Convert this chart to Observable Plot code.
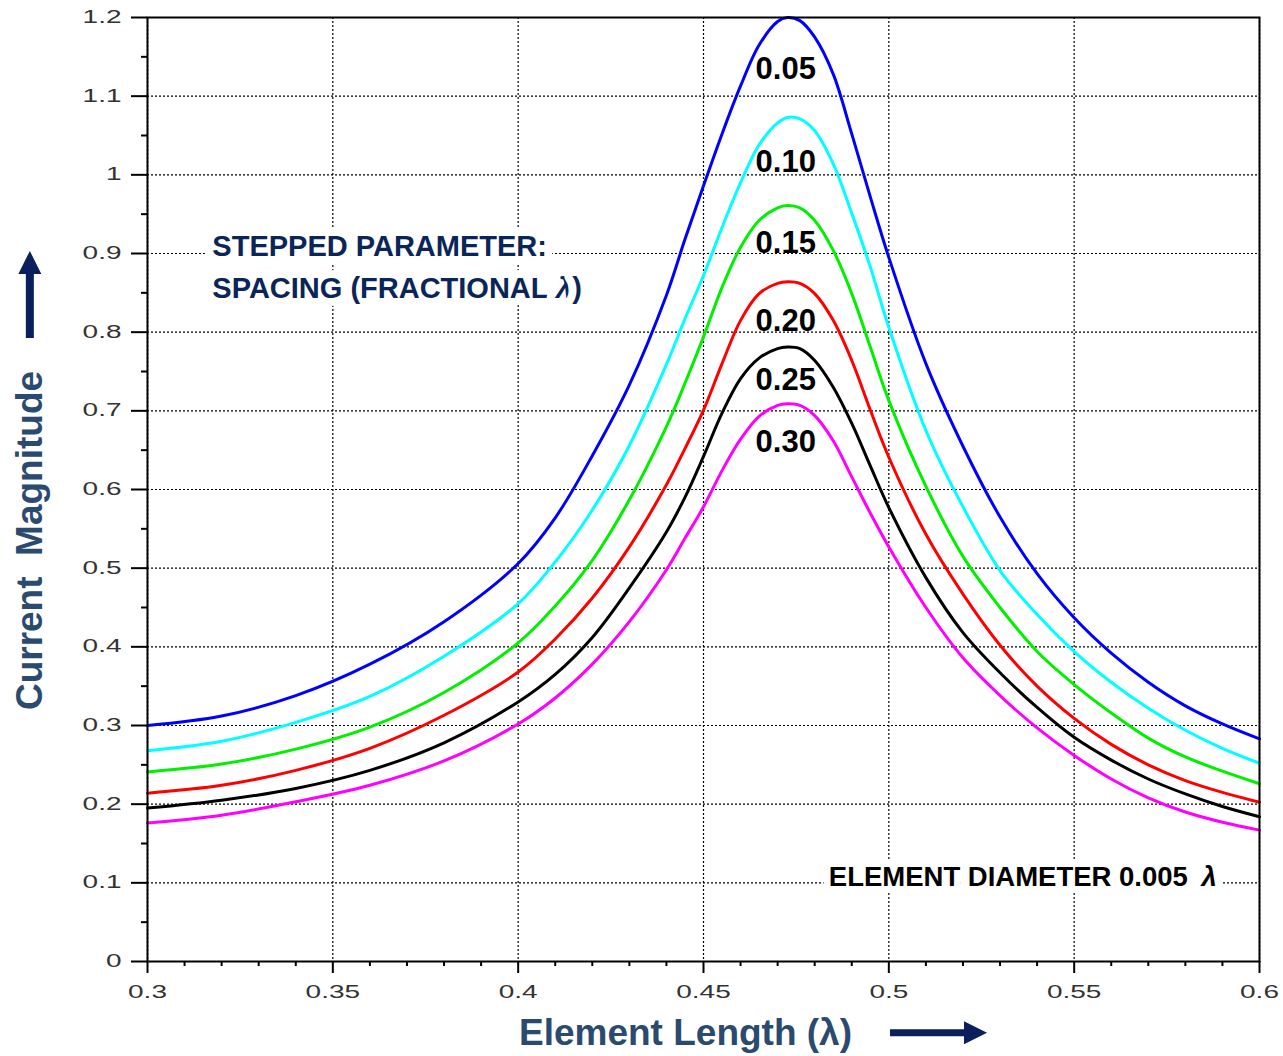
<!DOCTYPE html>
<html>
<head>
<meta charset="utf-8">
<script src="https://cdn.jsdelivr.net/npm/d3@7"></script>
<script src="https://cdn.jsdelivr.net/npm/@observablehq/plot@0.6"></script>
<style>
  html, body { margin: 0; padding: 0; background: #fff; }
  #chart svg { display: block; }
</style>
</head>
<body>
<div id="chart"></div>
<script>
// ---- data ----
const elementLength = [0.30, 0.32, 0.34, 0.36, 0.38, 0.40, 0.41, 0.42, 0.43, 0.44, 0.445, 0.45, 0.455, 0.46, 0.465, 0.47, 0.4726, 0.476, 0.48, 0.485, 0.49, 0.495, 0.50, 0.51, 0.52, 0.53, 0.54, 0.55, 0.56, 0.57, 0.58, 0.59, 0.60];

const spacing005 = [0.300, 0.312, 0.338, 0.378, 0.432, 0.506, 0.564, 0.643, 0.733, 0.847, 0.918, 0.986, 1.052, 1.113, 1.165, 1.195, 1.200, 1.196, 1.175, 1.128, 1.052, 0.972, 0.895, 0.760, 0.655, 0.565, 0.493, 0.437, 0.392, 0.355, 0.325, 0.302, 0.283];
const spacing010 = [0.268, 0.280, 0.304, 0.337, 0.388, 0.455, 0.508, 0.574, 0.656, 0.759, 0.817, 0.872, 0.933, 0.990, 1.038, 1.066, 1.073, 1.071, 1.056, 1.014, 0.951, 0.883, 0.806, 0.675, 0.578, 0.497, 0.441, 0.394, 0.355, 0.322, 0.294, 0.271, 0.252];
const spacing015 = [0.241, 0.251, 0.270, 0.298, 0.342, 0.405, 0.452, 0.510, 0.587, 0.680, 0.735, 0.794, 0.857, 0.908, 0.942, 0.958, 0.961, 0.958, 0.942, 0.904, 0.849, 0.781, 0.713, 0.604, 0.515, 0.450, 0.394, 0.352, 0.316, 0.284, 0.260, 0.242, 0.226];
const spacing020 = [0.214, 0.224, 0.243, 0.271, 0.313, 0.368, 0.410, 0.462, 0.527, 0.606, 0.652, 0.701, 0.760, 0.815, 0.849, 0.862, 0.864, 0.862, 0.849, 0.815, 0.764, 0.701, 0.641, 0.543, 0.467, 0.402, 0.350, 0.309, 0.276, 0.250, 0.230, 0.215, 0.2025];
const spacing025 = [0.195, 0.205, 0.220, 0.243, 0.278, 0.330, 0.365, 0.412, 0.475, 0.546, 0.590, 0.642, 0.697, 0.741, 0.767, 0.779, 0.781, 0.779, 0.764, 0.730, 0.684, 0.630, 0.577, 0.488, 0.418, 0.367, 0.323, 0.285, 0.256, 0.232, 0.213, 0.197, 0.184];
const spacing030 = [0.176, 0.186, 0.203, 0.224, 0.255, 0.302, 0.335, 0.378, 0.432, 0.498, 0.538, 0.578, 0.624, 0.664, 0.693, 0.707, 0.709, 0.707, 0.694, 0.662, 0.616, 0.570, 0.527, 0.450, 0.386, 0.338, 0.297, 0.262, 0.232, 0.208, 0.190, 0.177, 0.167];

const seriesNames = ["0.05", "0.10", "0.15", "0.20", "0.25", "0.30"];
const seriesColors = ["#0000ff", "#00ffff", "#00f000", "#ff0000", "#000000", "#ff00ff"];
const seriesValues = [spacing005, spacing010, spacing015, spacing020, spacing025, spacing030];

// curve label anchors (data units)
const curveLabelX = 0.4722;
const curveLabelY = [1.135, 1.016, 0.913, 0.8135, 0.7386, 0.6597];

const xTicks = [0.3, 0.35, 0.4, 0.45, 0.5, 0.55, 0.6];
const yTicks = [0, 0.1, 0.2, 0.3, 0.4, 0.5, 0.6, 0.7, 0.8, 0.9, 1, 1.1, 1.2];
const xMinorTicks = d3.range(30, 61).filter(v => v % 5 !== 0).map(v => v / 100);
const yMinorTicks = d3.range(0, 24).filter(v => v % 2 === 1).map(v => v / 20);

const annotationLines = ["STEPPED PARAMETER:", "SPACING (FRACTIONAL λ)"];
const annotationX = 0.3175;
const annotationY = [0.909, 0.8555];
const diameterNote = "ELEMENT DIAMETER 0.005 λ";
const diameterX = 0.4838;
const diameterY = 0.1068;

const xTitle = "Element Length (λ)";
const yTitle = "Current  Magnitude";

// ---- build table ----
const rows = seriesNames.flatMap((name, i) =>
  elementLength.map((x, j) => ({x, y: seriesValues[i][j], name})));
const curveLabels = seriesNames.map((name, i) => ({name, x: curveLabelX, y: curveLabelY[i]}));
const annotations = annotationLines.map((t, i) => ({t, x: annotationX, y: annotationY[i]}));

const FONT = "'Liberation Sans', Arial, Helvetica, sans-serif";
const NAVY = "#0a2558";
const SLATE = "#2b4a6f";

const chart = Plot.plot({
  width: 1283,
  height: 1056,
  marginLeft: 147,
  marginRight: 24,
  marginTop: 17,
  marginBottom: 95,
  style: {fontFamily: FONT, background: "#fff", color: "#000", overflow: "visible"},
  x: {domain: [0.3, 0.6], axis: null},
  y: {domain: [0, 1.2], axis: null},
  color: {domain: seriesNames, range: seriesColors},
  marks: [
    Plot.gridX(xTicks, {stroke: "#000", strokeOpacity: 1, strokeWidth: 1.2, strokeDasharray: "2,2"}),
    Plot.gridY(yTicks, {stroke: "#000", strokeOpacity: 1, strokeWidth: 1.2, strokeDasharray: "2,2"}),
    Plot.text(annotations, {
      x: "x", y: "y", text: "t", textAnchor: "start",
      fontSize: 29, fontWeight: "bold", fill: NAVY,
      stroke: "#fff", strokeWidth: 16, strokeLinejoin: "round", paintOrder: "stroke"
    }),
    Plot.text([diameterNote], {
      x: () => diameterX, y: () => diameterY, textAnchor: "start",
      fontSize: 27.5, fontWeight: "bold", fill: "#000",
      stroke: "#fff", strokeWidth: 14, strokeLinejoin: "round", paintOrder: "stroke"
    }),
    Plot.line(rows, {x: "x", y: "y", z: "name", stroke: "name", strokeWidth: 3, curve: "catmull-rom"}),
    Plot.frame({stroke: "#000", strokeWidth: 2}),
    Plot.axisX(xTicks, {
      tickSize: 12, tickPadding: 12, strokeWidth: 2, stroke: "#000", fill: "#333",
      fontSize: 17.5, label: null, tickFormat: d => String(+d.toFixed(2))
    }),
    Plot.axisX(xMinorTicks, {tickSize: 5, strokeWidth: 2, stroke: "#000", fill: "none", label: null}),
    Plot.axisY(yTicks, {
      tickSize: 16, tickPadding: 10, strokeWidth: 2, stroke: "#000", fill: "#333",
      fontSize: 17.5, label: null, tickFormat: d => String(+d.toFixed(1))
    }),
    Plot.axisY(yMinorTicks, {tickSize: 6, strokeWidth: 2, stroke: "#000", fill: "none", label: null}),
    Plot.text(curveLabels, {x: "x", y: "y", text: "name", fontSize: 31, fontWeight: "bold", fill: "#000"}),
    Plot.text([xTitle], {frameAnchor: "bottom", textAnchor: "middle", lineAnchor: "middle", dx: -18, dy: 72, fontSize: 37, fontWeight: "bold", fill: SLATE}),
    Plot.text([yTitle], {frameAnchor: "left", textAnchor: "middle", lineAnchor: "middle", rotate: -90, dx: -117, dy: 51, fontSize: 37, fontWeight: "bold", fill: SLATE})
  ]
});

document.getElementById("chart").append(chart);

const svg = d3.select(chart);
const findText = s => svg.selectAll("text").filter(function() { return this.textContent === s; });

// widen tick labels horizontally like the original
svg.selectAll('g[aria-label="x-axis tick label"] text, g[aria-label="y-axis tick label"] text')
  .attr("transform", function() { return this.getAttribute("transform") + " scale(1.6,1)"; });

// preserve double space in y title
findText(yTitle).style("white-space", "pre");

// italic lambda in annotations
function italicLambda(sel, gap) {
  sel.each(function() {
    const t = this.textContent;
    const k = t.indexOf("λ");
    if (k < 0) return;
    const el = d3.select(this);
    el.text(null);
    el.append("tspan").text(t.slice(0, k));
    el.append("tspan").attr("font-style", "italic").attr("dx", gap).text("λ");
    if (k + 1 < t.length) el.append("tspan").text(t.slice(k + 1));
  });
}
italicLambda(findText(annotationLines[1]), 0);
italicLambda(findText(diameterNote), 6);

// arrows next to the axis titles
const svgRect = chart.getBoundingClientRect();
function rel(el) {
  const r = el.getBoundingClientRect();
  return {x: r.left - svgRect.left, y: r.top - svgRect.top, w: r.width, h: r.height};
}
const ARROW = "#0a1f5c";
const xtNode = findText(xTitle).node();
if (xtNode) {
  const xt = rel(xtNode);
  const cy = xt.y + xt.h / 2;
  const x0 = xt.x + xt.w + 38;
  svg.append("path")
    .attr("fill", ARROW)
    .attr("d", `M${x0},${cy - 3.5}H${x0 + 74}V${cy - 11.5}L${x0 + 97},${cy}L${x0 + 74},${cy + 11.5}V${cy + 3.5}H${x0}Z`);
}
const ytNode = findText(yTitle).node();
if (ytNode) {
  const yt = rel(ytNode);
  const cx = yt.x + yt.w / 2;
  const y0 = yt.y - 33;
  svg.append("path")
    .attr("fill", ARROW)
    .attr("d", `M${cx - 4},${y0}V${y0 - 64}H${cx - 11.5}L${cx},${y0 - 87}L${cx + 11.5},${y0 - 64}H${cx + 4}V${y0}Z`);
}
</script>
</body>
</html>
